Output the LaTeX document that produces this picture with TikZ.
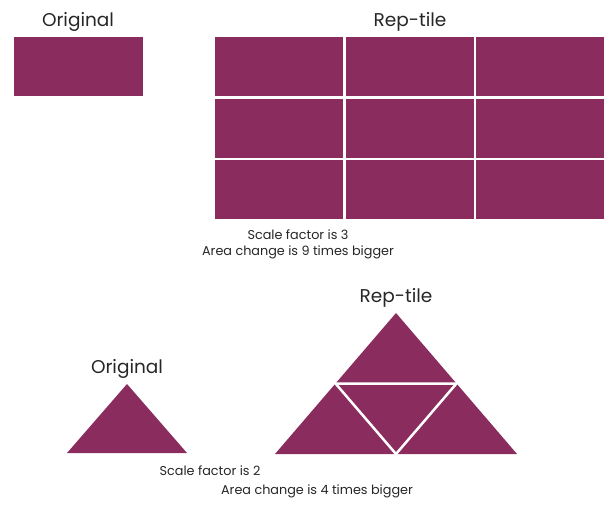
\documentclass[tikz,border=0pt]{standalone}
\usepackage{fontspec}
\setmainfont{Poppins}
\definecolor{tilepurple}{HTML}{8B2C5E}
\begin{document}
\begin{tikzpicture}[x=1pt, y=-1pt]
\tikzset{
  heading/.style={font=\fontsize{18.5}{22}\selectfont, text=black!85},
  caption/.style={font=\fontsize{12.8}{16}\selectfont, text=black!85, align=center},
}
\useasboundingbox (0,0) rectangle (613,511);

% rectangles
\node[heading] (origA) at (78,22) {Original};
\fill[tilepurple] (14,37) rectangle (143,96);

\node[heading] (repA) at (410,22) {Rep-tile};
\foreach \x in {215,346,476}
  \foreach \y in {37,99,160}
    \fill[tilepurple] (\x,\y) rectangle ++(128,59);

\node[caption] (capA) at (298,244) {Scale factor is 3\\Area change is 9 times bigger};

% triangles
\node[heading] (origB) at (127,369) {Original};
\fill[tilepurple] (127,384) -- (187,453) -- (67,453) -- cycle;

\node[heading] (repB) at (396,298) {Rep-tile};
\fill[tilepurple] (396,313) -- (517,454) -- (275,454) -- cycle;
\draw[white, line width=2.5pt] (335.5,383.5) -- (456.5,383.5) -- (396,454) -- cycle;

\node[caption] (capB) at (210,471) {Scale factor is 2};
\node[caption] (capC) at (317,491) {Area change is 4 times bigger};
\end{tikzpicture}
\end{document}
